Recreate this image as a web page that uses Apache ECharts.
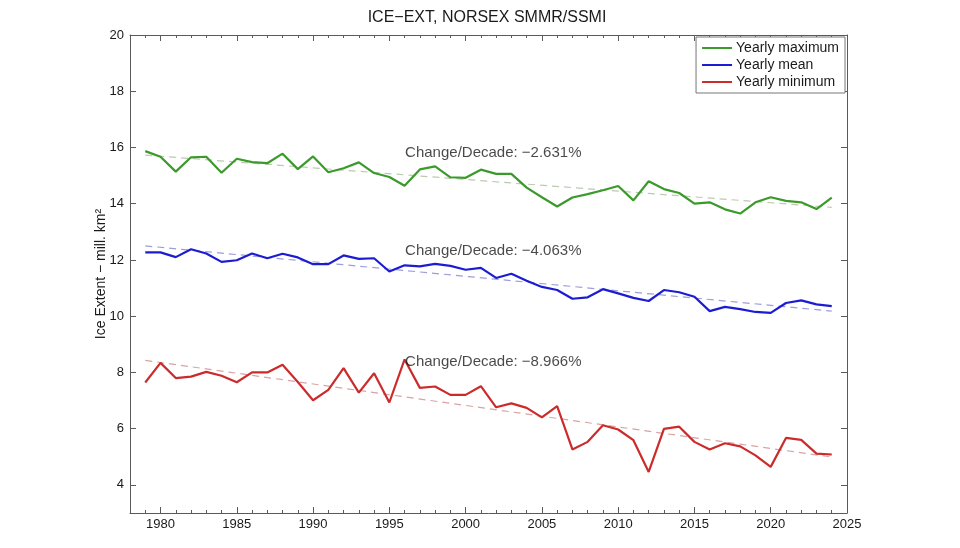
<!DOCTYPE html>
<html>
<head>
<meta charset="utf-8">
<script src="https://cdn.jsdelivr.net/npm/echarts@6/dist/echarts.min.js"></script>
<style>html,body{margin:0;padding:0;background:#fff}#c{width:960px;height:548px}</style>
</head>
<body>
<div id="c"></div>
<script>
const years = [1979,1980,1981,1982,1983,1984,1985,1986,1987,1988,1989,1990,1991,1992,1993,1994,1995,1996,1997,1998,1999,2000,2001,2002,2003,2004,2005,2006,2007,2008,2009,2010,2011,2012,2013,2014,2015,2016,2017,2018,2019,2020,2021,2022,2023,2024];
const yearlyMax = [15.87,15.67,15.14,15.65,15.67,15.10,15.60,15.48,15.44,15.78,15.23,15.68,15.12,15.26,15.47,15.09,14.95,14.64,15.22,15.33,14.94,14.92,15.21,15.06,15.06,14.57,14.23,13.90,14.22,14.34,14.48,14.63,14.12,14.80,14.52,14.38,14.00,14.05,13.80,13.65,14.05,14.23,14.10,14.05,13.81,14.22];
const yearlyMean = [12.27,12.27,12.10,12.38,12.23,11.93,11.99,12.23,12.06,12.22,12.09,11.85,11.85,12.16,12.04,12.06,11.59,11.81,11.77,11.86,11.79,11.65,11.72,11.36,11.51,11.26,11.04,10.93,10.62,10.67,10.96,10.81,10.65,10.54,10.93,10.85,10.69,10.18,10.33,10.25,10.15,10.12,10.47,10.56,10.42,10.36];
const yearlyMin = [7.64,8.34,7.80,7.85,8.02,7.88,7.65,8.00,8.00,8.27,7.66,7.01,7.38,8.15,7.28,7.97,6.93,8.46,7.45,7.50,7.20,7.20,7.51,6.76,6.90,6.74,6.40,6.80,5.26,5.53,6.12,5.97,5.59,4.46,5.99,6.07,5.53,5.26,5.48,5.37,5.05,4.64,5.67,5.60,5.11,5.08];
const trendYears = [1979, 2024];
const maxTrend = [15.73, 13.87];
const meanTrend = [12.50, 10.18];
const minTrend = [8.43, 4.99];
const changeLabels = ['Change/Decade: \u22122.631%', 'Change/Decade: \u22124.063%', 'Change/Decade: \u22128.966%'];
const changeLabelPos = [[1996, 15.82], [1996, 12.33], [1996, 8.38]];
const xTicks = [1980,1985,1990,1995,2000,2005,2010,2015,2020,2025];
const xMinorTicks = [1979,1980,1981,1982,1983,1984,1985,1986,1987,1988,1989,1990,1991,1992,1993,1994,1995,1996,1997,1998,1999,2000,2001,2002,2003,2004,2005,2006,2007,2008,2009,2010,2011,2012,2013,2014,2015,2016,2017,2018,2019,2020,2021,2022,2023,2024];
const yTicks = [4,6,8,10,12,14,16,18,20];
const seriesNames = ['Yearly maximum','Yearly mean','Yearly minimum'];

const FONT = 'Liberation Sans, Arial, Helvetica, sans-serif';
const AX = '#5a5a5a';
const TXT = '#1a1a1a';
const colors = ['#3c9a2c', '#1c1cd2', '#cc2b2b'];
const trendColors = ['#bccab0', '#9d9ddc', '#d9a3a3'];

const pair = (xs, ys) => xs.map((x, i) => [x, ys[i]]);

const chart = echarts.init(document.getElementById('c'), null, {renderer: 'canvas'});
const baseX = {type: 'value', min: 1978, max: 2025, gridIndex: 0, splitLine: {show: false}};
const baseY = {type: 'value', min: 3, max: 20, splitLine: {show: false}};
chart.setOption({
  animation: false,
  backgroundColor: '#fff',
  title: {
    text: 'ICE\u2212EXT, NORSEX SMMR/SSMI',
    left: 482, top: 5, textAlign: 'center',
    textStyle: {fontFamily: FONT, fontSize: 16, fontWeight: 'normal', color: TXT}
  },
  grid: {left: 130, right: 113, top: 35, bottom: 35, containLabel: false},
  legend: {
    data: seriesNames,
    icon: 'rect',
    orient: 'vertical',
    right: 115, top: 37,
    itemWidth: 30, itemHeight: 2, itemGap: 1,
    padding: [3, 6, 3, 6],
    borderColor: '#777', borderWidth: 1, backgroundColor: '#fff',
    textStyle: {fontFamily: FONT, fontSize: 14, color: TXT, lineHeight: 16, height: 16, padding: [0, 0, 0, -1]}
  },
  xAxis: [
    Object.assign({}, baseX, {
      position: 'bottom',
      axisLine: {show: true, lineStyle: {color: AX, width: 1}},
      axisTick: {show: true, inside: true, length: 6, customValues: xTicks, lineStyle: {color: AX}},
      axisLabel: {show: true, customValues: xTicks, formatter: v => String(v), fontFamily: FONT, fontSize: 13, color: TXT, margin: 5}
    }),
    Object.assign({}, baseX, {
      position: 'bottom',
      axisLine: {show: false},
      axisTick: {show: true, inside: true, length: 3, customValues: xMinorTicks, lineStyle: {color: AX}},
      axisLabel: {show: false}
    }),
    Object.assign({}, baseX, {
      position: 'top',
      axisLine: {show: true, lineStyle: {color: AX, width: 1}},
      axisTick: {show: true, inside: true, length: 6, customValues: xTicks, lineStyle: {color: AX}},
      axisLabel: {show: false}
    }),
    Object.assign({}, baseX, {
      position: 'top',
      axisLine: {show: false},
      axisTick: {show: true, inside: true, length: 3, customValues: xMinorTicks, lineStyle: {color: AX}},
      axisLabel: {show: false}
    })
  ],
  yAxis: [
    Object.assign({}, baseY, {
      position: 'left',
      name: 'Ice Extent \u2212 mill. km\u00B2',
      nameLocation: 'middle', nameGap: 22, nameRotate: 90, nameMoveOverlap: false,
      nameTextStyle: {fontFamily: FONT, fontSize: 14, color: TXT},
      axisLine: {show: true, lineStyle: {color: AX, width: 1}},
      axisTick: {show: true, inside: true, length: 6, customValues: yTicks, lineStyle: {color: AX}},
      axisLabel: {show: true, customValues: yTicks, fontFamily: FONT, fontSize: 13, color: TXT, margin: 6}
    }),
    Object.assign({}, baseY, {
      position: 'right',
      axisLine: {show: true, lineStyle: {color: AX, width: 1}},
      axisTick: {show: true, inside: true, length: 6, customValues: yTicks, lineStyle: {color: AX}},
      axisLabel: {show: false}
    })
  ],
  series: [
    {type: 'line', name: 'trendMax', data: pair(trendYears, maxTrend), symbol: 'none', silent: true,
     lineStyle: {color: trendColors[0], width: 1.2, type: [7, 5]}, z: 1},
    {type: 'line', name: 'trendMean', data: pair(trendYears, meanTrend), symbol: 'none', silent: true,
     lineStyle: {color: trendColors[1], width: 1.2, type: [7, 5]}, z: 1},
    {type: 'line', name: 'trendMin', data: pair(trendYears, minTrend), symbol: 'none', silent: true,
     lineStyle: {color: trendColors[2], width: 1.2, type: [7, 5]}, z: 1},
    {type: 'line', name: seriesNames[0], data: pair(years, yearlyMax), symbol: 'none',
     color: colors[0], lineStyle: {color: colors[0], width: 2.2}, z: 3},
    {type: 'line', name: seriesNames[1], data: pair(years, yearlyMean), symbol: 'none',
     color: colors[1], lineStyle: {color: colors[1], width: 2.2}, z: 3},
    {type: 'line', name: seriesNames[2], data: pair(years, yearlyMin), symbol: 'none',
     color: colors[2], lineStyle: {color: colors[2], width: 2.2}, z: 3},
    {type: 'scatter', name: 'labels', silent: true, symbolSize: 1, z: 5,
     itemStyle: {color: 'rgba(255,255,255,0)'},
     data: changeLabelPos.map((p, i) => ({value: p, label: {formatter: changeLabels[i]}})),
     label: {show: true, position: 'right', distance: 0, fontFamily: FONT, fontSize: 15, color: TXT}}
  ]
});
</script>
</body>
</html>
